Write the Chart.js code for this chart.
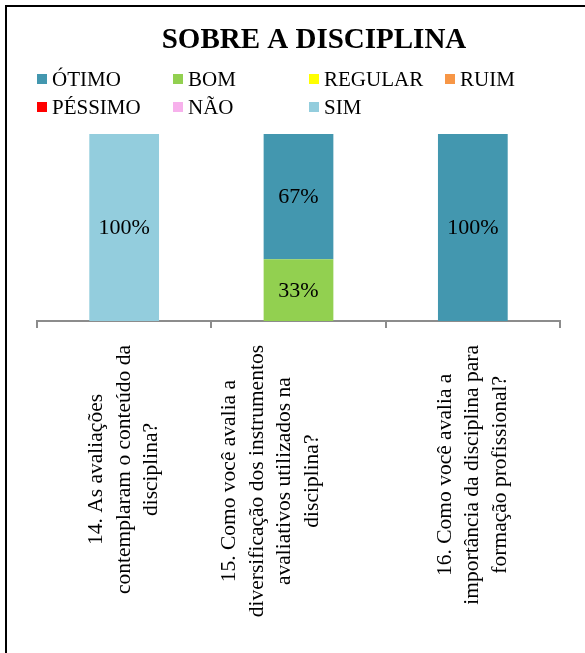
<!DOCTYPE html>
<html><head><meta charset="utf-8">
<script src="https://cdn.jsdelivr.net/npm/chart.js@4.4.1/dist/chart.umd.min.js"></script>
<style>
html,body{margin:0;padding:0;background:#fff;}
#wrap{position:relative;width:585px;height:653px;overflow:hidden;background:#fff;}
#frame{position:absolute;left:5px;top:5px;width:700px;height:800px;border-left:2px solid #000;border-top:2px solid #000;}
canvas{position:absolute;left:0;top:0;}
</style></head><body>
<div id="wrap"><div id="frame"></div><canvas id="c" width="585" height="653"></canvas></div>
<script>
// ---- data ----
const chartTitle = 'SOBRE A DISCIPLINA';
const categories = [
  ['14. As avaliações', 'contemplaram o conteúdo da', 'disciplina?'],
  ['15. Como você avalia a', 'diversificação dos instrumentos', 'avaliativos utilizados na', 'disciplina?'],
  ['16. Como você avalia a', 'importância da disciplina para', 'formação profissional?']
];
const seriesNames = ['ÓTIMO', 'BOM', 'REGULAR', 'RUIM', 'PÉSSIMO', 'NÃO', 'SIM'];
const otimo   = [0, 67, 100];
const bom     = [0, 33, 0];
const regular = [0, 0, 0];
const ruim    = [0, 0, 0];
const pessimo = [0, 0, 0];
const nao     = [0, 0, 0];
const sim     = [100, 0, 0];
const seriesColors = ['#4397AF', '#92D050', '#FFFF00', '#F79646', '#FF0000', '#F7B1EC', '#93CDDD'];
// stacking order (bottom to top)
const stackOrder = ['BOM', 'ÓTIMO', 'REGULAR', 'RUIM', 'PÉSSIMO', 'NÃO', 'SIM'];
// layout: horizontal shift of each category label block, in line heights
const labelLineShift = [0, -1, 0];

const seriesValues = {'ÓTIMO': otimo, 'BOM': bom, 'REGULAR': regular, 'RUIM': ruim, 'PÉSSIMO': pessimo, 'NÃO': nao, 'SIM': sim};
const SERIF = "'Liberation Serif', 'Times New Roman', serif";

const datasets = stackOrder.map(name => ({
  label: name,
  data: seriesValues[name],
  backgroundColor: seriesColors[seriesNames.indexOf(name)],
  borderWidth: 0,
  barPercentage: 0.4,
  categoryPercentage: 1.0
}));

const customPlugin = {
  id: 'custom',
  afterDraw(chart) {
    const ctx = chart.ctx;
    const area = chart.chartArea;
    const xs = chart.scales.x;
    ctx.save();
    // title
    ctx.fillStyle = '#000';
    ctx.font = 'bold 29px ' + SERIF;
    ctx.textAlign = 'center';
    ctx.textBaseline = 'alphabetic';
    ctx.fillText(chartTitle, 314, 48);
    // legend (4 columns)
    ctx.font = '21px ' + SERIF;
    ctx.textAlign = 'left';
    ctx.textBaseline = 'middle';
    const colW = 136, rowH = 28, x0 = area.left, y0 = area.top - 55;
    seriesNames.forEach((name, i) => {
      const col = i % 4, row = Math.floor(i / 4);
      const x = x0 + col * colW, y = y0 + row * rowH;
      ctx.fillStyle = seriesColors[i];
      ctx.fillRect(x, y - 5, 10, 10);
      ctx.fillStyle = '#000';
      ctx.fillText(name, x + 15, y + 1);
    });
    // data labels
    ctx.font = '22px ' + SERIF;
    ctx.textAlign = 'center';
    ctx.textBaseline = 'middle';
    chart.data.datasets.forEach((ds, di) => {
      const meta = chart.getDatasetMeta(di);
      meta.data.forEach((el, i) => {
        const v = ds.data[i];
        if (!v) return;
        const p = el.getCenterPoint();
        ctx.fillText(v + '%', p.x, p.y + 1);
      });
    });
    // category labels, rotated, lines centered
    ctx.font = '21.5px ' + SERIF;
    const lh = 27.5;
    categories.forEach((lines, i) => {
      const x = xs.getPixelForValue(i) + labelLineShift[i] * lh;
      const maxW = Math.max(...lines.map(l => ctx.measureText(l).width));
      const cy = xs.bottom + 17 + maxW / 2;
      ctx.save();
      ctx.translate(x, cy);
      ctx.rotate(-Math.PI / 2);
      lines.forEach((l, j) => {
        ctx.fillText(l, 0, (j - (lines.length - 1) / 2) * lh);
      });
      ctx.restore();
    });
    ctx.restore();
  }
};

new Chart(document.getElementById('c'), {
  type: 'bar',
  data: { labels: categories, datasets },
  options: {
    responsive: false,
    animation: false,
    layout: { padding: { top: 134, left: 37, right: 25, bottom: 325 } },
    plugins: { legend: { display: false }, title: { display: false }, tooltip: { enabled: false } },
    scales: {
      x: {
        stacked: true,
        offset: true,
        grid: { display: true, offset: true, drawOnChartArea: false, drawTicks: true, tickLength: 7, color: '#8C8C8C', lineWidth: 2 },
        border: { display: true, color: '#8C8C8C', width: 2 },
        ticks: { display: false }
      },
      y: { stacked: true, display: false, min: 0, max: 100 }
    }
  },
  plugins: [customPlugin]
});
</script>
</body></html>
